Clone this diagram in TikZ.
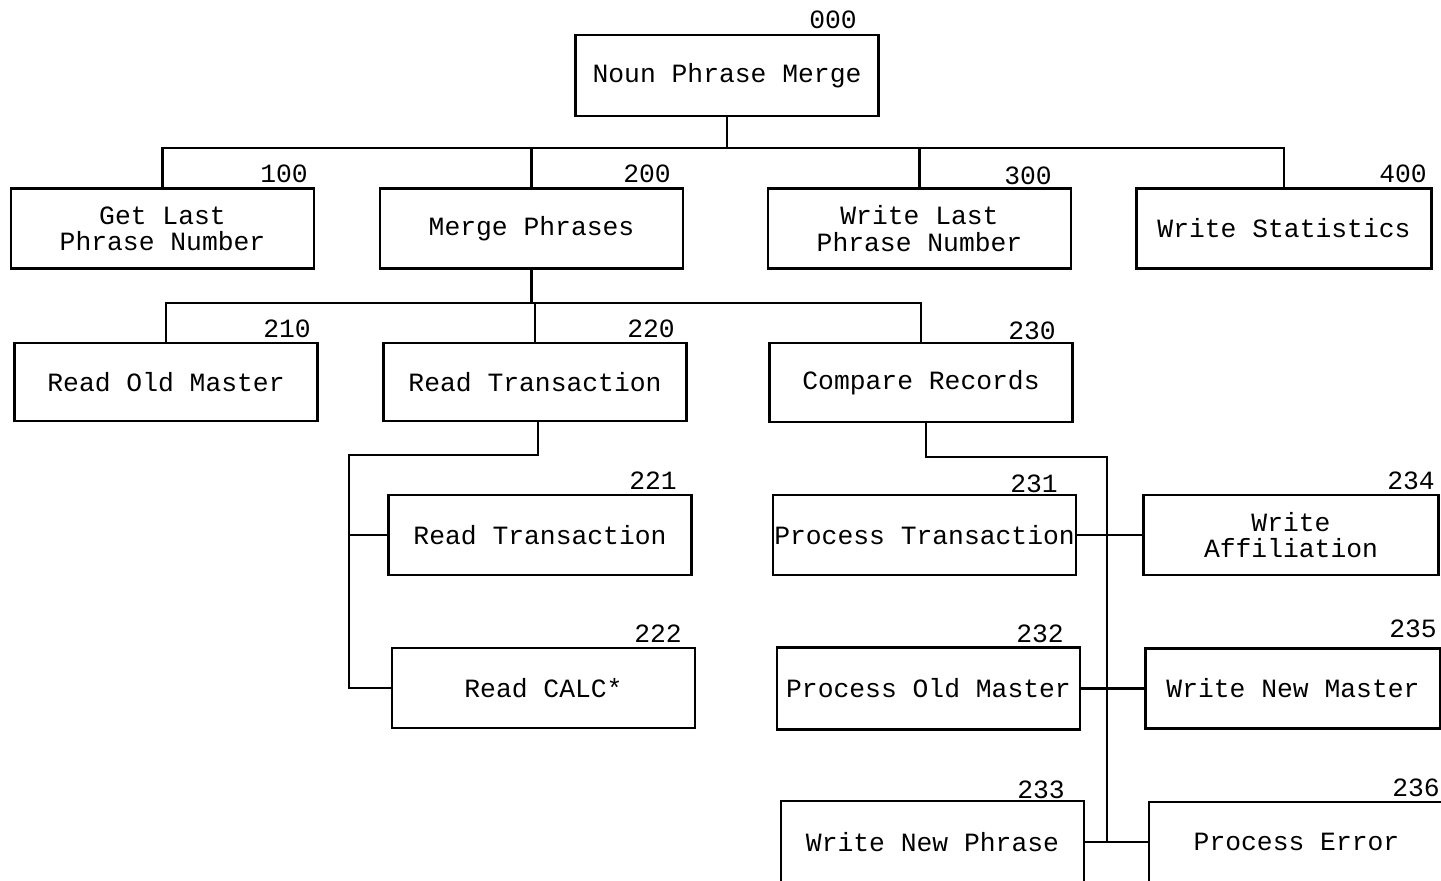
\documentclass[tikz,border=0pt]{standalone}
\usepackage{fontspec}
\newfontfamily\maquina{Liberation Mono}
\begin{document}
\begin{tikzpicture}[x=0.02cm, y=-0.02cm]
\tikzset{
    aresta/.style={-, line width=1.2pt},
    caixa/.style={rectangle, draw=black, line width=1.3pt, inner sep=0pt, align=center,
                  minimum width=6.06cm, minimum height=1.6cm,
                  font=\maquina\fontsize{15pt}{15pt}\selectfont},
    estreita/.style={minimum width=5.9cm},
    rotulo/.style={inner sep=0pt, font=\maquina\fontsize{15pt}{15pt}\selectfont}
}
\useasboundingbox (0,0) rectangle (1441,881);

% Módulos
\node[caixa, minimum height=1.62cm] (n000) at (727,75.5)  {Noun Phrase Merge};
\node[caixa] (n100) at (162.5,228.5) {Get Last\\Phrase Number};
\node[caixa] (n200) at (531.5,228.5) {Merge Phrases};
\node[caixa] (n300) at (919.5,228.5) {Write Last\\Phrase Number};
\node[caixa, estreita] (n400) at (1284,228.5) {Write Statistics};

\node[caixa, minimum height=1.56cm] (n210) at (166,382)   {Read Old Master};
\node[caixa, minimum height=1.56cm] (n220) at (535,382)   {Read Transaction};
\node[caixa, minimum height=1.58cm] (n230) at (921,382.5) {Compare Records};

\node[caixa] (n221) at (540,535)   {Read Transaction};
\node[caixa] (n222) at (543.5,688) {Read CALC*};

\node[caixa] (n231) at (924.5,535)   {Process Transaction};
\node[caixa, minimum height=1.64cm] (n232) at (928.5,688.5) {Process Old Master};
\node[caixa, minimum height=1.64cm] (n233) at (932.5,842)   {Write New Phrase};
\node[caixa, estreita] (n234) at (1291,535)   {Write\\Affiliation};
\node[caixa, estreita] (n235) at (1293,688.5) {Write New Master};
\node[caixa, estreita, minimum height=1.6cm] (n236) at (1296.5,842) {Process Error};

% Números dos módulos
\node[rotulo] (r000) at (833,20)  {000};
\node[rotulo] (r100) at (284,174) {100};
\node[rotulo] (r200) at (647,174) {200};
\node[rotulo] (r300) at (1028,176) {300};
\node[rotulo] (r400) at (1403,174) {400};
\node[rotulo] (r210) at (287,329) {210};
\node[rotulo] (r220) at (651,329) {220};
\node[rotulo] (r230) at (1032,331) {230};
\node[rotulo] (r221) at (653,481) {221};
\node[rotulo] (r222) at (658,634) {222};
\node[rotulo] (r231) at (1034,484) {231};
\node[rotulo] (r232) at (1040,634) {232};
\node[rotulo] (r233) at (1041,790) {233};
\node[rotulo] (r234) at (1411,481) {234};
\node[rotulo] (r235) at (1413,629) {235};
\node[rotulo] (r236) at (1416,788) {236};

% Pontos de ligação
\coordinate (barra0) at (0,148);
\coordinate (barra2) at (0,303);
\coordinate (esq220) at (349,455);
\coordinate (dir230) at (1107,457);

% Ligações do nível 1
\draw[aresta] (n000.south) -- (n000 |- barra0);
\draw[aresta] (n100.north) -- (n100 |- barra0) -- (n400 |- barra0) -- (n400.north);
\draw[aresta] (n200.north) -- (n200 |- barra0);
\draw[aresta] (n300.north) -- (n300 |- barra0);

% Ligações do nível 2
\draw[aresta] (n200.south) -- (n200 |- barra2);
\draw[aresta] (n210.north) -- (n210 |- barra2) -- (n230 |- barra2) -- (n230.north);
\draw[aresta] (n220.north) -- (n220 |- barra2);

% Ligações do nível 3
\draw[aresta] ([xshift=0.06cm]n220.south) |- (esq220) |- (n222.west);
\draw[aresta] (esq220 |- n221.west) -- (n221.west);

\draw[aresta] ([xshift=0.1cm]n230.south) |- (dir230) -- (dir230 |- n233.east);
\draw[aresta] (n231.east) -- (n234.west);
\draw[aresta] (n232.east) -- (n235.west);
\draw[aresta] (n233.east) -- (n236.west);
\end{tikzpicture}
\end{document}
